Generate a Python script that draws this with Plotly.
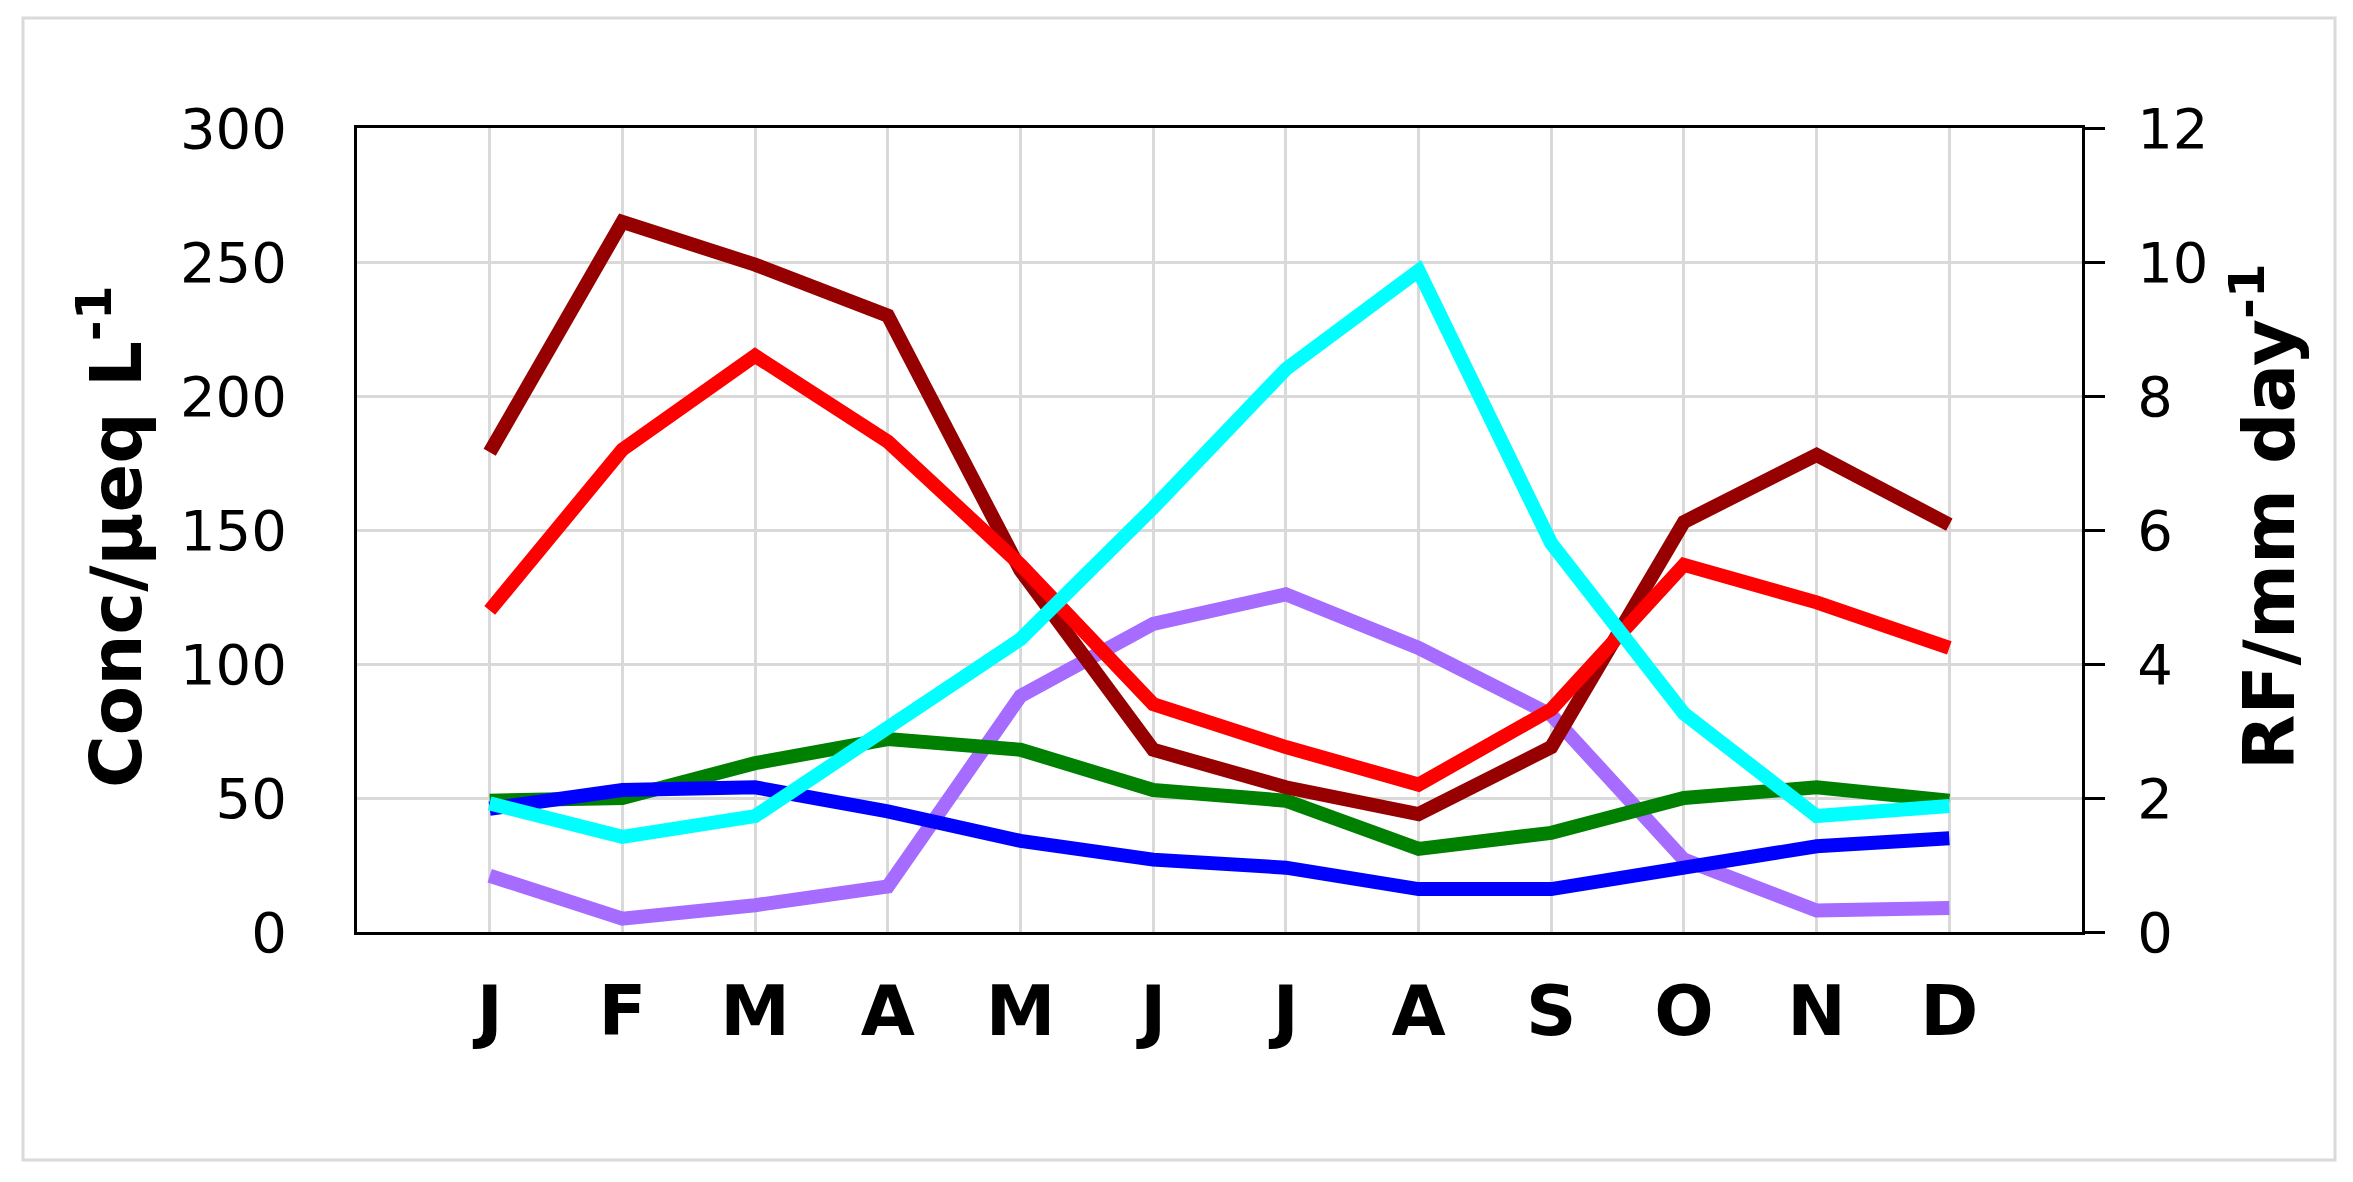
import plotly.graph_objects as go

months = ["J", "F", "M", "A", "M", "J", "J", "A", "S", "O", "N", "D"]
x_idx = list(range(12))

dark_red = [179, 265, 249, 230, 135, 68, 54, 44, 69, 153, 178, 152]
red = [120, 180, 215, 183, 137, 85, 69, 55, 83, 137, 123, 106]
purple = [21, 5, 10, 17, 88, 115, 126, 106, 81, 27, 8, 9]
green = [49, 50, 63, 72, 68, 53, 49, 31, 37, 50, 54, 49]
blue = [46, 53, 54, 45, 34, 27, 24, 16, 16, 24, 32, 35]
rainfall = [1.92, 1.42, 1.73, 3.07, 4.37, 6.33, 8.4, 9.87, 5.8, 3.26, 1.73, 1.88]

y_ticks = [0, 50, 100, 150, 200, 250, 300]
y2_ticks = [0, 2, 4, 6, 8, 10, 12]

LW = 14
fig = go.Figure()
for vals, col in [(purple, "#A66BFF"), (green, "#008000"), (blue, "#0000FF"),
                  (dark_red, "#960000"), (red, "#FF0000")]:
    fig.add_trace(go.Scatter(x=x_idx, y=vals, mode="lines",
                             line=dict(color=col, width=LW), yaxis="y"))
fig.add_trace(go.Scatter(x=x_idx, y=rainfall, mode="lines",
                         line=dict(color="#00FFFF", width=LW), yaxis="y2"))

OFF = 8  # page body margin
PW, PH = 2353, 1182
W, H = PW - 2 * OFF, PH - 2 * OFF
# plot area in page pixels
L, R, T, B = 357, 2082, 128, 932
pw, ph = R - L, B - T

def px(x):
    return (x - L) / pw

def py(y):
    return (B - y) / ph

fig.update_layout(
    width=W, height=H,
    margin=dict(l=L - OFF, r=W - (R - OFF), t=T - OFF, b=H - (B - OFF), pad=0),
    paper_bgcolor="white", plot_bgcolor="white",
    showlegend=False,
    font=dict(family="DejaVu Sans", color="black"),
    xaxis=dict(
        range=[-1, 12], tickmode="array", tickvals=x_idx, ticktext=months,
        showgrid=True, gridcolor="#D9D9D9", gridwidth=3,
        showline=True, linecolor="black", linewidth=3, mirror=True,
        ticks="", tickfont=dict(size=70, weight="bold", family="DejaVu Sans"),
        ticklabelstandoff=16, zeroline=False,
    ),
    yaxis=dict(
        range=[0, 300], tickmode="array", tickvals=y_ticks,
        showgrid=True, gridcolor="#D9D9D9", gridwidth=3,
        showline=True, linecolor="black", linewidth=3,
        ticks="", tickfont=dict(size=56), ticklabelstandoff=56, zeroline=False,
    ),
    yaxis2=dict(
        range=[0, 12], tickmode="array", tickvals=y2_ticks, overlaying="y", side="right",
        showgrid=False, showline=True, linecolor="black", linewidth=3,
        ticks="outside", ticklen=20, tickwidth=3, tickcolor="black",
        tickfont=dict(size=56), ticklabelstandoff=21, zeroline=False,
    ),
    shapes=[dict(type="rect", xref="paper", yref="paper",
                 x0=px(23), x1=px(2335), y0=py(1160), y1=py(18),
                 line=dict(color="#DADADA", width=3), fillcolor="rgba(0,0,0,0)",
                 layer="below")],
    annotations=[
        dict(text="Conc/μeq L<sup>-1</sup>", textangle=-90, xref="paper", yref="paper",
             x=px(111), y=py(537), showarrow=False, xanchor="center", yanchor="middle",
             font=dict(size=72, weight="bold", family="DejaVu Sans")),
        dict(text="RF/mm day<sup>-1</sup>", textangle=-90, xref="paper", yref="paper",
             x=px(2264), y=py(517), showarrow=False, xanchor="center", yanchor="middle",
             font=dict(size=72, weight="bold", family="DejaVu Sans")),
    ],
)

fig.write_html("out.html")
